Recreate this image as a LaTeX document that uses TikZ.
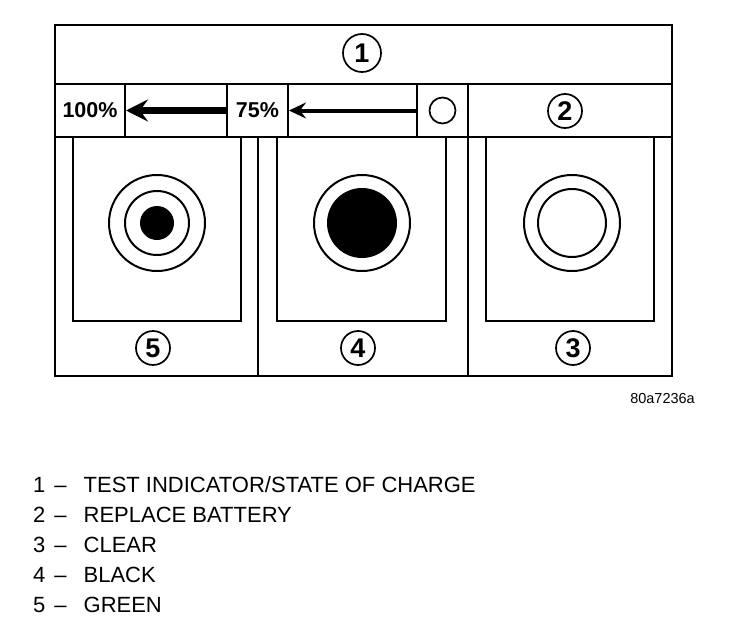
\documentclass[tikz,border=0pt]{standalone}
\usepackage{fontspec}
\setmainfont{Liberation Sans}
\usetikzlibrary{arrows.meta, positioning}

\begin{document}
\begin{tikzpicture}[x=1pt, y=-1pt,
    frame/.style={line width=2.6pt},
    panel/.style={line width=2pt},
    pctbox/.style={draw, line width=2pt, minimum height=53pt, inner sep=0pt,
      font=\fontsize{21.5}{21.5}\selectfont\bfseries},
    callout/.style={circle, draw, line width=1.7pt, inner sep=0pt, minimum size=34pt,
      font=\fontsize{27}{27}\selectfont\bfseries},
    ring/.style={line width=2pt},
    legend/.style={anchor=base west, inner sep=0pt, font=\fontsize{22}{22}\selectfont}]
  \fill[white] (0,0) rectangle (752,618);
  \useasboundingbox (0,0) rectangle (752,618);

  % Gehaeuse und Baender
  \draw[frame] (55,25) rectangle (672,376);
  \draw[frame] (55,84) -- (672,84);
  \draw[frame] (55,137) -- (672,137);
  \draw[frame] (258,137) -- (258,376);
  \draw[frame] (468,84) -- (468,376);

  % Ladeanzeige
  \node[pctbox, minimum width=70pt] (full) at (90,110.5) {100\%};
  \node[pctbox, minimum width=61pt] (part) at (257.5,110.5) {75\%};
  \node[pctbox, minimum width=51pt] (low) at (442.5,110.5) {};
  \node[circle, draw, line width=1.7pt, minimum size=26pt, inner sep=0pt] (lowmark) at (low.center) {};
  \draw[-{Stealth[length=22pt, width=22pt, inset=8pt]}, line width=6.5pt] (part.west) -- (full.east);
  \draw[-{Stealth[length=17pt, width=16pt, inset=6pt]}, line width=4pt] (low.west) -- (part.east);

  % Felder
  \foreach \xa/\xb in {73/241, 277/446, 486/654}
    \draw[panel] (\xa,137) rectangle (\xb,321);

  % gruen
  \draw[ring] (157,223) circle (48);
  \draw[ring] (157,223) circle (32);
  \fill (157,223) circle (17);
  % schwarz
  \draw[ring] (362,223) circle (48);
  \fill (362,223) circle (35);
  % klar
  \draw[ring] (572,223) circle (48);
  \draw[ring] (572,223) circle (34);

  % Positionsnummern
  \node[callout, minimum size=38pt] (c1) at (362,53) {1};
  \node[callout] (c2) at (565,111) {2};
  \node[callout] (c3) at (573,348) {3};
  \node[callout] (c4) at (358,348) {4};
  \node[callout] (c5) at (153,348) {5};

  \node[anchor=base east, inner sep=0pt, font=\fontsize{14.5}{14.5}\selectfont] (ref) at (695,403) {80a7236a};

  % Legende
  \foreach \n/\t [count=\i] in {1/{TEST INDICATOR/STATE OF CHARGE}, 2/{REPLACE BATTERY},
      3/{CLEAR}, 4/{BLACK}, 5/{GREEN}}
    \node[legend] (leg\n) at (33,462+30*\i) {\n\hspace{9pt}--\hspace{17pt}\t};
\end{tikzpicture}
\end{document}
